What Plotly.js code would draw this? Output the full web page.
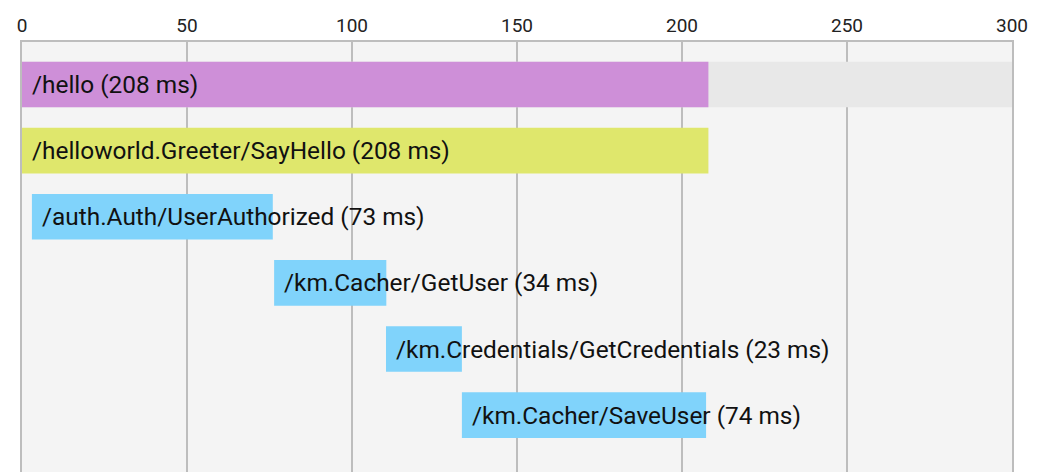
<!DOCTYPE html>
<html>
<head>
<meta charset="utf-8">
<script src="https://cdn.plot.ly/plotly-3.0.1.min.js"></script>
<style>
  html, body { margin: 0; padding: 0; background: #fff; overflow: hidden; }
  #chart { width: 1050px; height: 472px; }
</style>
</head>
<body>
<div id="chart"></div>
<script>
// Span names (rows, top to bottom)
const spans = [
  "/hello",
  "/helloworld.Greeter/SayHello",
  "/auth.Auth/UserAuthorized",
  "/km.Cacher/GetUser",
  "/km.Credentials/GetCredentials",
  "/km.Cacher/SaveUser"
];
// Start offsets (ms)
const starts = [0, 0, 3, 76.4, 110.3, 133.3];
// Durations (ms)
const durations = [208, 208, 73, 34, 23, 74];
// Bar colours per span
const colors = ["#ce8fd8", "#dfe76c", "#80d3fb", "#80d3fb", "#80d3fb", "#80d3fb"];
// Highlighted row
const highlightRow = ["/hello"];
const axisMax = 300;
const tickVals = [0, 50, 100, 150, 200, 250, 300];

const labels = spans.map((s, i) => s + " (" + durations[i] + " ms)");

const highlight = {
  type: "bar",
  orientation: "h",
  y: highlightRow,
  x: highlightRow.map(() => axisMax),
  base: highlightRow.map(() => 0),
  width: 0.69,
  marker: { color: "#e8e8e8", line: { width: 0 } },
  hoverinfo: "skip",
  showlegend: false
};

const bars = {
  type: "bar",
  orientation: "h",
  y: spans,
  x: durations,
  base: starts,
  width: 0.69,
  marker: { color: colors, line: { width: 0 } },
  hoverinfo: "skip",
  showlegend: false
};

const annotations = spans.map((s, i) => ({
  x: starts[i],
  y: s,
  xref: "x",
  yref: "y",
  text: labels[i],
  showarrow: false,
  xanchor: "left",
  yanchor: "middle",
  xshift: 8,
  font: { family: "Roboto, 'Open Sans', sans-serif", size: 24.4, color: "#111" }
}));

const layout = {
  width: 1050,
  height: 472,
  margin: { l: 22, r: 38, t: 42, b: 0 },
  paper_bgcolor: "#ffffff",
  plot_bgcolor: "#f4f4f4",
  barmode: "overlay",
  showlegend: false,
  hovermode: false,
  xaxis: {
    side: "top",
    range: [0, axisMax],
    tickvals: tickVals,
    ticktext: tickVals.map(String),
    showgrid: true,
    gridcolor: "#bdbdbd",
    gridwidth: 2,
    zeroline: false,
    showline: true,
    linecolor: "#bdbdbd",
    linewidth: 2,
    ticks: "",
    tickfont: { family: "Roboto, 'Open Sans', sans-serif", size: 19, color: "#222" }
  },
  yaxis: {
    type: "category",
    categoryorder: "array",
    categoryarray: spans,
    range: [5.86, -0.643],
    showticklabels: false,
    showgrid: false,
    zeroline: false,
    showline: true,
    mirror: true,
    linecolor: "#bdbdbd",
    linewidth: 2,
    ticks: ""
  },
  annotations: annotations
};

Plotly.newPlot("chart", [highlight, bars], layout, { displayModeBar: false, staticPlot: true });
</script>
</body>
</html>
